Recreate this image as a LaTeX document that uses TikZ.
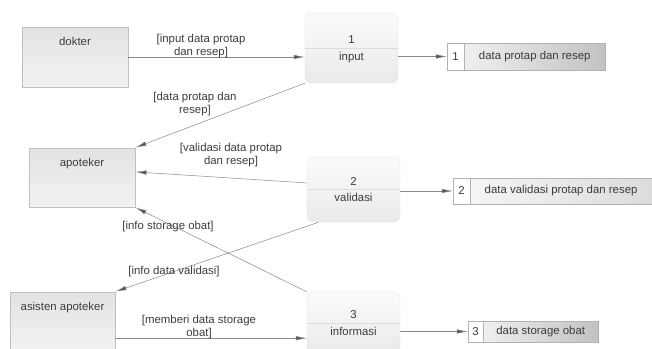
\documentclass[tikz,border=0pt]{standalone}
\usepackage{fontspec}
\setmainfont{Liberation Sans}
\usetikzlibrary{arrows.meta,positioning,calc}
\definecolor{txtgray}{HTML}{3C3C3C}
\definecolor{linegray}{HTML}{888888}
\definecolor{tipgray}{HTML}{555555}
\begin{document}
\begin{tikzpicture}
        [x=1pt, y=-1pt, font=\fontsize{11.4}{12.5}\selectfont, text=txtgray,
        entity/.style={rectangle, draw=gray!50, line width=0.9pt, top color=gray!22, bottom color=gray!10, minimum width=106, minimum height=60},
        proc/.style={rectangle, rounded corners=6pt, draw=gray!22, top color=gray!3, bottom color=gray!17, minimum width=93, minimum height=70},
        divider/.style={gray!28, thin},
        store/.style={rectangle, draw=gray!60, left color=gray!8, right color=gray!48, minimum height=27},
        cell/.style={rectangle, draw=gray!60, fill=white, minimum height=27, minimum width=17, inner sep=0pt},
        ptxt/.style={inner sep=0pt},
        flow/.style={linegray, line width=0.5pt, -{Latex[length=11pt,width=4.5pt,fill=tipgray]}},
        lbl/.style={align=center, inner sep=1pt}]

        \useasboundingbox (0,0) rectangle (652,348);

        % external entities
        \node[entity, label={[below=7pt]north:dokter}] (dokter) at (75,57) {};
        \node[entity, minimum height=59, label={[below=7pt]north:apoteker}] (apoteker) at (82,177.5) {};
        \node[entity, minimum width=105, label={[below=7pt]north:asisten apoteker}] (asisten) at (62.5,322) {};

        % processes
        \node[proc] (p1) at (351.5,48) {};
        \node[proc, minimum height=65] (p2) at (353.5,189.5) {};
        \node[proc, minimum height=62] (p3) at (353.5,323) {};
        \draw[divider] (p1.west) -- (p1.east);
        \draw[divider] (p2.west) -- (p2.east);
        \draw[divider] (p3.west) -- (p3.east);
        \node[ptxt, above=4pt of p1.center] (n1) {1};
        \node[ptxt, below=4pt of p1.center] (t1) {input};
        \node[ptxt, above=4pt of p2.center] (n2) {2};
        \node[ptxt, below=4pt of p2.center] (t2) {validasi};
        \node[ptxt, above=4pt of p3.center] (n3) {3};
        \node[ptxt, below=4pt of p3.center] (t3) {informasi};

        % data stores
        \node[store, minimum width=158] (s1) at (526,56.5) {};
        \node[cell, anchor=west] (c1) at (s1.west) {1};
        \node (d1) at ($(c1.east)!0.5!(s1.east)$) {data protap dan resep};
        \node[store, minimum width=202, minimum height=26, left color=gray!6, right color=gray!28] (s2) at (554,191) {};
        \node[cell, anchor=west, minimum height=26] (c2) at (s2.west) {2};
        \node[anchor=west] (d2) at ([xshift=11pt]c2.east) {data validasi protap dan resep};
        \node[store, minimum width=130, minimum height=21] (s3) at (533,331.5) {};
        \node[cell, anchor=west, minimum height=21, minimum width=15] (c3) at (s3.west) {3};
        \node (d3) at ($(c3.east)!0.5!(s3.east)$) {data storage obat};

        % flows
        \draw[flow] (dokter.east) -- (dokter.east -| p1.west);
        \draw[flow] (p1.south west) -- (apoteker.north east);
        \draw[flow] (p2.172) -- (apoteker.6);
        \draw[flow] (p3.north west) -- (apoteker.south east);
        \draw[flow] ([xshift=12pt]p2.south west) -- (asisten.north east);
        \draw[flow] (asisten.343) -- (asisten.343 -| p3.west);
        \draw[flow] (p1.east |- s1.west) -- (s1.west);
        \draw[flow] (p2.east |- s2.west) -- (s2.west);
        \draw[flow] (p3.east |- s3.west) -- (s3.west);

        % flow labels
        \node[lbl] (l1) at (201,46) {[input data protap\\dan resep]};
        \node[lbl] (l2) at (195,104) {[data protap dan\\resep]};
        \node[lbl] (l3) at (231,155) {[validasi data protap\\dan resep]};
        \node[lbl] (l4) at (168,227) {[info storage obat]};
        \node[lbl] (l5) at (174,272) {[info data validasi]};
        \node[lbl] (l6) at (199,327) {[memberi data storage\\obat]};

        \end{tikzpicture}
\end{document}
